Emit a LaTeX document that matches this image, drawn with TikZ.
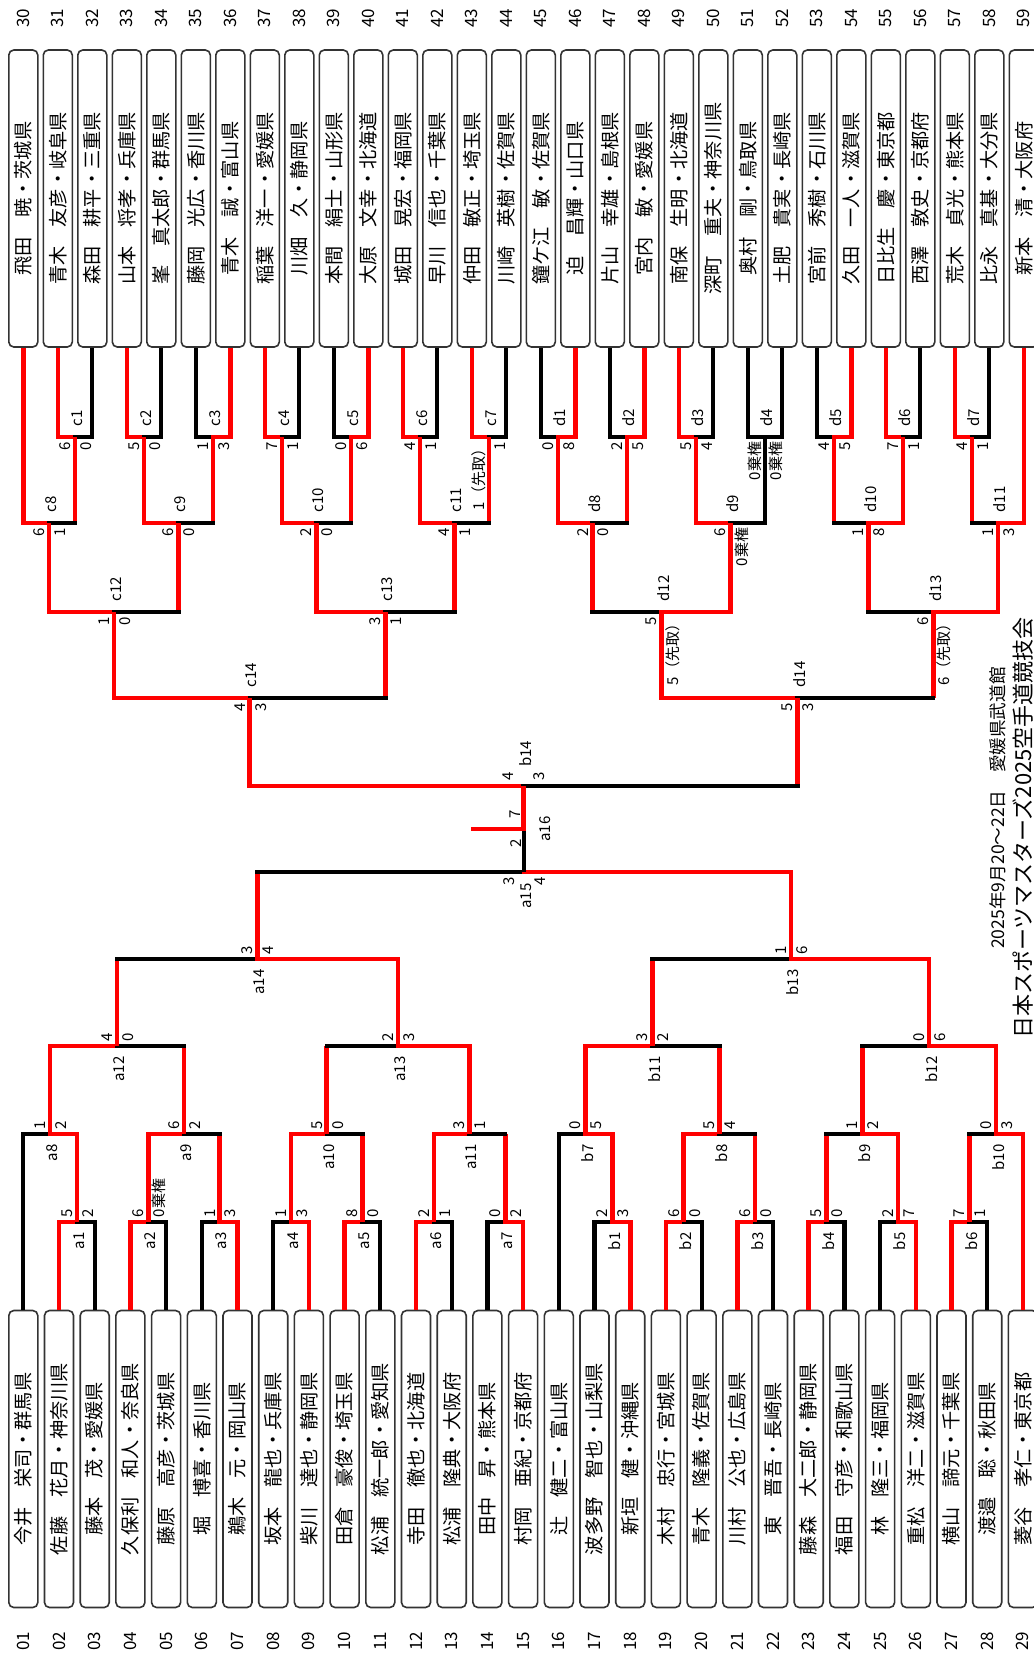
\documentclass[tikz,border=0pt]{standalone}
\usepackage{fontspec}
\newfontfamily\jpfont{Noto Sans CJK JP}
\usetikzlibrary{calc}

\newcommand{\mpos}[4]{\path ($(#2)!.5!(#3)$) coordinate (tmp); \coordinate (#1) at (tmp |- 0,#4);}
\newcommand{\bout}[7]{%
  \draw[#4] (#2) -- (#2 |- #1);
  \draw[#5] (#3) -- (#3 |- #1);
  \draw[#6, line cap=rect] (#2 |- #1) -- (#1);
  \draw[#7, line cap=rect] (#1) -- (#3 |- #1);}

\begin{document}
\begin{tikzpicture}[x=0.5pt, y=-0.5pt,
  entry/.style={draw=black!80, line width=0.8pt, fill=white, rounded corners=2.5pt, rotate=90,
    minimum width=148.5pt, minimum height=14.5pt, inner sep=0pt, font=\jpfont\fontsize{9.6}{10}\selectfont},
  num/.style={rotate=90, inner sep=0pt, font=\jpfont\fontsize{8.5}{9}\selectfont},
  score/.style={rotate=90, inner sep=0pt, font=\jpfont\fontsize{7.5}{8}\selectfont},
  win/.style={red, line width=2.3pt},
  lose/.style={black, line width=2.1pt}]
\useasboundingbox (0,0) rectangle (1034,1656);
\fill[white] (0,0) rectangle (1034,1656);

\foreach \nm [count=\i from 30] in {飛田　暁・茨城県, 青木　友彦・岐阜県, 森田　耕平・三重県, 山本　将孝・兵庫県, 峯　真太郎・群馬県,
    藤岡　光広・香川県, 青木　誠・富山県, 稲葉　洋一・愛媛県, 川畑　久・静岡県, 本間　絹士・山形県, 大原　文幸・北海道,
    城田　晃宏・福岡県, 早川　信也・千葉県, 仲田　敏正・埼玉県, 川崎　英樹・佐賀県, 鐘ケ江　敏・佐賀県, 迫　昌輝・山口県,
    片山　幸雄・島根県, 宮内　敏・愛媛県, 南保　生明・北海道, 深町　重夫・神奈川県, 奥村　剛・鳥取県, 土肥　貴実・長崎県,
    宮前　秀樹・石川県, 久田　一人・滋賀県, 日比生　慶・東京都, 西澤　敦史・京都府, 荒木　貞光・熊本県, 比永　真基・大分県,
    新本　清・大阪府} {
  \node[entry] (n\i) at ({23.3+34.5*(\i-30)},198.5) {\nm};
  \node[num] at ({23.3+34.5*(\i-30)},18) {\i};
  \coordinate (e\i) at (n\i.west);
}
\foreach \nm [count=\i] in {今井　栄司・群馬県, 佐藤　花月・神奈川県, 藤本　茂・愛媛県, 久保利　和人・奈良県, 藤原　高彦・茨城県,
    堀　博喜・香川県, 鵜木　元・岡山県, 坂本　龍也・兵庫県, 柴川　達也・静岡県, 田倉　豪俊・埼玉県, 松浦　統一郎・愛知県,
    寺田　徹也・北海道, 松浦　隆典・大阪府, 田中　昇・熊本県, 村岡　亜紀・京都府, 辻　健二・富山県, 波多野　智也・山梨県,
    新垣　健・沖縄県, 木村　忠行・宮城県, 青木　隆義・佐賀県, 川村　公也・広島県, 東　晋吾・長崎県, 藤森　大二郎・静岡県,
    福田　守彦・和歌山県, 林　隆三・福岡県, 重松　洋二・滋賀県, 横山　諦元・千葉県, 渡邉　聡・秋田県, 菱谷　孝仁・東京都} {
  \node[entry] (n\i) at ({23.3+35.7*(\i-1)},1459) {\nm};
  \node[num] at ({23.3+35.7*(\i-1)},1641) {\ifnum\i<10 0\fi\i};
  \coordinate (e\i) at (n\i.east);
}

\foreach \m/\ma/\mb/\lev/\va/\vb/\ha/\hb in {
    c1/e31/e32/437/win/lose/win/lose, c2/e33/e34/437/win/lose/win/lose, c3/e35/e36/437/lose/win/lose/win,
    c4/e37/e38/437/win/lose/win/lose, c5/e39/e40/437/lose/win/lose/win, c6/e41/e42/437/win/lose/win/lose,
    c7/e43/e44/437/win/lose/win/lose, d1/e45/e46/437/lose/win/lose/win, d2/e47/e48/437/lose/win/lose/win,
    d3/e49/e50/437/win/lose/win/lose, d4/e51/e52/437/lose/lose/lose/lose, d5/e53/e54/437/lose/win/lose/win,
    d6/e55/e56/437/win/lose/win/lose, d7/e57/e58/437/win/lose/win/lose,
    c8/e30/c1/523/win/win/win/lose, c9/c2/c3/523/win/win/win/lose, c10/c4/c5/523/win/win/win/lose,
    c11/c6/c7/523/win/win/win/lose, d8/d1/d2/523/win/win/win/lose, d9/d3/d4/523/win/lose/win/lose,
    d10/d5/d6/523/win/win/lose/win, d11/d7/e59/523/win/win/lose/win,
    c12/c8/c9/612/win/win/win/lose, c13/c10/c11/612/win/win/win/lose,
    d12/d8/d9/612/win/win/lose/win, d13/d10/d11/612/win/win/lose/win,
    c14/c12/c13/698/win/win/win/lose, d14/d12/d13/698/win/win/win/lose,
    b14/c14/d14/786/win/win/win/lose,
    a1/e2/e3/1222/win/lose/win/lose, a2/e4/e5/1222/win/lose/win/lose, a3/e6/e7/1222/lose/win/lose/win,
    a4/e8/e9/1222/lose/win/lose/win, a5/e10/e11/1222/win/lose/win/lose, a6/e12/e13/1222/win/lose/win/lose,
    a7/e14/e15/1222/lose/win/lose/win, b1/e17/e18/1222/lose/win/lose/win, b2/e19/e20/1222/win/lose/win/lose,
    b3/e21/e22/1222/win/lose/win/lose, b4/e23/e24/1222/win/lose/win/lose, b5/e25/e26/1222/lose/win/lose/win,
    b6/e27/e28/1222/win/lose/win/lose,
    a8/e1/a1/1134/lose/win/lose/win, a9/a2/a3/1134/win/win/win/lose, a10/a4/a5/1134/win/win/win/lose,
    a11/a6/a7/1134/win/win/win/lose, b7/e16/b1/1134/lose/win/lose/win, b8/b2/b3/1134/win/win/win/lose,
    b9/b4/b5/1134/win/win/lose/win, b10/b6/e29/1134/win/win/lose/win,
    a12/a8/a9/1046/win/win/win/lose, a13/a10/a11/1046/win/win/lose/win,
    b11/b7/b8/1046/win/win/win/lose, b12/b9/b10/1046/win/win/lose/win,
    a14/a12/a13/959/win/win/lose/win, b13/b11/b12/959/win/win/lose/win,
    a15/a14/b13/872/win/win/lose/win} {
  \mpos{\m}{\ma}{\mb}{\lev}
  \bout{\m}{\ma}{\mb}{\va}{\vb}{\ha}{\hb}
}

\coordinate (a16) at (b14 |- 0,829);
\coordinate (champ) at (473,829);
\draw[win] (b14) -- (a16);
\draw[lose] (a15) -- (a15 |- a16);
\draw[win, line cap=rect] (champ) -- (a16);

\foreach \m/\sa/\sb in {c1/6/0, c2/5/0, c3/1/3, c4/7/1, c5/0/6, c6/4/1, c7/1（先取）/1, d1/0/8, d2/2/5, d3/5/4,
    d4/0棄権/0棄権, d5/4/5, d6/7/1, d7/4/1, c8/6/1, c9/6/0, c10/2/0, c11/4/1, d8/2/0, d9/6/0棄権, d10/1/8, d11/1/3,
    c12/1/0, c13/3/1, d12/5/5（先取）, d13/6/6（先取）, c14/4/3, d14/5/3} {
  \node[score, anchor=east] at ($(\m)+(-10,4.5)$) {\sa};
  \node[score, anchor=east] at ($(\m)+(11,4.5)$) {\sb};
  \node[score, anchor=west] at ($(\m)+(2,-10)$) {\m};
}
\foreach \m/\sa/\sb in {a1/5/2, a2/6/0棄権, a3/1/3, a4/1/3, a5/8/0, a6/2/1, a7/0/2, b1/2/3, b2/6/0, b3/6/0, b4/5/0,
    b5/2/7, b6/7/1, a8/1/2, a9/6/2, a10/5/0, a11/3/1, b7/0/5, b8/5/4, b9/1/2, b10/0/3, a12/4/0, a13/2/3,
    b11/3/2, b12/0/6, a14/3/4, b13/1/6} {
  \node[score, anchor=west] at ($(\m)+(-10,-4.5)$) {\sa};
  \node[score, anchor=west] at ($(\m)+(11,-4.5)$) {\sb};
  \node[score, anchor=east] at ($(\m)+(2,10)$) {\m};
}

\node[score, anchor=west] at ($(b14)+(-15,-5)$) {4};
\node[score, anchor=west] at ($(b14)+(16,-5)$) {3};
\node[score, anchor=west] at ($(b14)+(2,-19)$) {b14};
\node[score, anchor=east] at ($(a15)+(-15,4.5)$) {3};
\node[score, anchor=east] at ($(a15)+(16,4.5)$) {4};
\node[score, anchor=east] at ($(a15)+(2,11)$) {a15};
\node[score] at ($(a16)+(-8,-15)$) {7};
\node[score] at ($(a16)+(-8,14)$) {2};
\node[score] at ($(a16)+(22,0)$) {a16};

\node[rotate=90, inner sep=0pt, font=\jpfont\fontsize{11}{12}\selectfont] (title) at (1023,828) {日本スポーツマスターズ2025空手道競技会};
\node[rotate=90, inner sep=0pt, font=\jpfont\fontsize{8.8}{9}\selectfont] (venue) at (998,808) {2025年9月20〜22日　愛媛県武道館};
\end{tikzpicture}
\end{document}
